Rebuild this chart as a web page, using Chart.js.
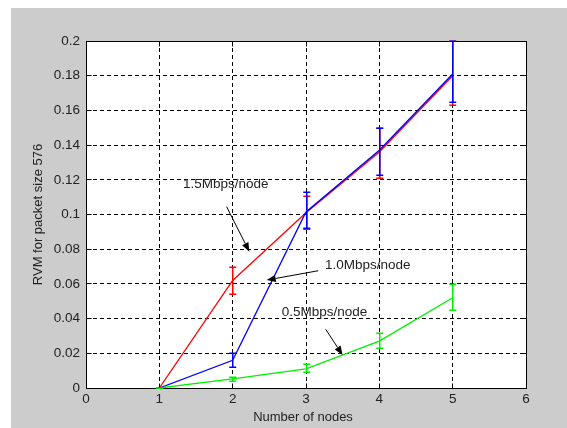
<!DOCTYPE html>
<html>
<head>
<meta charset="utf-8">
<title>RVM vs number of nodes</title>
<script src="https://cdn.jsdelivr.net/npm/chart.js@4/dist/chart.umd.min.js"></script>
<style>
  html, body { margin: 0; padding: 0; background: #ffffff; }
  canvas { display: block; }
</style>
</head>
<body>
<canvas id="c" width="567" height="428"></canvas>
<script>
// Number of nodes
const nodes = [1, 2, 3, 4, 5];

// RVM values and error limits, 1.5 Mbps/node
const rvm15 = [0, 0.062, 0.101, 0.136, 0.180];
const rvm15Low = [0, 0.054, 0.0915, 0.121, 0.163];
const rvm15High = [0, 0.070, 0.1105, 0.150, 0.200];

// RVM values and error limits, 1.0 Mbps/node
const rvm10 = [0, 0.016, 0.1015, 0.137, 0.181];
const rvm10Low = [0, 0.012, 0.0925, 0.123, 0.165];
const rvm10High = [0, 0.020, 0.113, 0.150, 0.200];

// RVM values and error limits, 0.5 Mbps/node
const rvm05 = [0, 0.0052, 0.011, 0.027, 0.052];
const rvm05Low = [0, 0.0042, 0.009, 0.023, 0.045];
const rvm05High = [0, 0.0066, 0.0138, 0.0315, 0.060];

// Axis ranges and tick steps
const xTicks = [0, 1, 2, 3, 4, 5, 6];
const yMin = 0, yMax = 0.2, yStep = 0.02;

// Callout labels: text anchor and arrow (tail -> head), in data units
const calloutText = ['1.5Mbps/node', '1.0Mbps/node', '0.5Mbps/node'];
const calloutTextX = [1.323, 3.259, 2.669];
const calloutTextY = [0.1176, 0.0709, 0.0436];
const arrowFromX = [1.918, 3.168, 3.269];
const arrowFromY = [0.1045, 0.0676, 0.0338];
const arrowToX = [2.227, 2.464, 3.499];
const arrowToY = [0.0786, 0.0622, 0.0190];

const FONT = '"Liberation Sans", Arial, sans-serif';
const TEXT = '#222222';

function pts(ys) { return nodes.map((x, i) => ({ x: x, y: ys[i] })); }
// snap a coordinate to the centre of a pixel, the same way the grid does
function snap(p) { return Math.round(p - 0.5) + 0.5; }

const series = [
  { label: '1.5Mbps/node', data: rvm15, low: rvm15Low, high: rvm15High, color: '#ff0000', order: 3 },
  { label: '1.0Mbps/node', data: rvm10, low: rvm10Low, high: rvm10High, color: '#0000ff', order: 2 },
  { label: '0.5Mbps/node', data: rvm05, low: rvm05Low, high: rvm05High, color: '#00ee00', order: 1 }
];

// Figure background: grey panel with white plot area
const backgroundPlugin = {
  id: 'figureBackground',
  beforeDraw(chart) {
    const ctx = chart.ctx, a = chart.chartArea;
    ctx.save();
    ctx.fillStyle = '#ffffff';
    ctx.fillRect(0, 0, chart.width, chart.height);
    ctx.fillStyle = '#cccccc';
    ctx.fillRect(11, 8, chart.width - 11, chart.height - 8);
    ctx.fillStyle = '#ffffff';
    ctx.fillRect(a.left, a.top, a.right - a.left, a.bottom - a.top);
    ctx.restore();
  }
};

// Vertical error bars with short caps, in each series' colour
function drawErrorBars(chart) {
  const ctx = chart.ctx, xs = chart.scales.x, ys = chart.scales.y;
  ctx.save();
  ctx.lineWidth = 1.5;
  ctx.setLineDash([]);
  series.forEach(s => {
    ctx.strokeStyle = s.color;
    nodes.forEach((n, i) => {
      const px = snap(xs.getPixelForValue(n)) + 0.25;
      const pl = Math.round(ys.getPixelForValue(s.low[i])) + 0.25;
      const ph = Math.round(ys.getPixelForValue(s.high[i])) + 0.25;
      ctx.beginPath();
      ctx.moveTo(px, pl); ctx.lineTo(px, ph);
      ctx.moveTo(px - 3.5, pl); ctx.lineTo(px + 3.5, pl);
      ctx.moveTo(px - 3.5, ph); ctx.lineTo(px + 3.5, ph);
      ctx.stroke();
    });
  });
  ctx.restore();
}

// Frame, inward ticks, error bars, axis titles and callouts
const decorPlugin = {
  id: 'decor',
  afterDraw(chart) {
    const ctx = chart.ctx, a = chart.chartArea, xs = chart.scales.x, ys = chart.scales.y;
    ctx.save();
    ctx.strokeStyle = '#000000';
    ctx.lineWidth = 1;
    ctx.setLineDash([]);
    const L = snap(a.left), R = snap(a.right);
    const T = snap(a.top), B = snap(a.bottom);
    ctx.beginPath();
    ctx.rect(L, T, R - L, B - T);
    ctx.stroke();
    ctx.beginPath();
    xTicks.forEach(v => {
      const p = snap(xs.getPixelForValue(v));
      ctx.moveTo(p, B); ctx.lineTo(p, B - 5);
      ctx.moveTo(p, T); ctx.lineTo(p, T + 5);
    });
    for (let v = yMin; v <= yMax + 1e-9; v += yStep) {
      const p = snap(ys.getPixelForValue(v));
      ctx.moveTo(L, p); ctx.lineTo(L + 5, p);
      ctx.moveTo(R, p); ctx.lineTo(R - 5, p);
    }
    ctx.stroke();

    drawErrorBars(chart);

    // axis titles
    ctx.fillStyle = TEXT;
    ctx.font = '13px ' + FONT;
    ctx.textAlign = 'center';
    ctx.textBaseline = 'middle';
    ctx.fillText('Number of nodes', (a.left + a.right) / 2 - 3, a.bottom + 29);
    ctx.save();
    ctx.translate(38, (a.top + a.bottom) / 2);
    ctx.rotate(-Math.PI / 2);
    ctx.fillText('RVM for packet size 576', 0, 0);
    ctx.restore();

    // callouts
    ctx.textAlign = 'left';
    ctx.font = '13.5px ' + FONT;
    calloutText.forEach((t, i) => {
      ctx.fillStyle = TEXT;
      ctx.fillText(t, xs.getPixelForValue(calloutTextX[i]), ys.getPixelForValue(calloutTextY[i]));
      const x0 = xs.getPixelForValue(arrowFromX[i]), y0 = ys.getPixelForValue(arrowFromY[i]);
      const x1 = xs.getPixelForValue(arrowToX[i]), y1 = ys.getPixelForValue(arrowToY[i]);
      const ang = Math.atan2(y1 - y0, x1 - x0);
      const hl = 9, hw = 3.5;
      const bx = x1 - hl * Math.cos(ang), by = y1 - hl * Math.sin(ang);
      ctx.strokeStyle = '#000000';
      ctx.lineWidth = 1;
      ctx.beginPath();
      ctx.moveTo(x0, y0); ctx.lineTo(bx, by);
      ctx.stroke();
      ctx.fillStyle = '#000000';
      ctx.beginPath();
      ctx.moveTo(x1, y1);
      ctx.lineTo(bx + hw * Math.sin(ang), by - hw * Math.cos(ang));
      ctx.lineTo(bx - hw * Math.sin(ang), by + hw * Math.cos(ang));
      ctx.closePath();
      ctx.fill();
    });
    ctx.restore();
  }
};

new Chart(document.getElementById('c'), {
  type: 'line',
  data: {
    datasets: series.map(s => ({
      label: s.label,
      data: pts(s.data),
      borderColor: s.color,
      backgroundColor: s.color,
      borderWidth: 1.3,
      pointRadius: 0,
      fill: false,
      tension: 0,
      order: s.order
    }))
  },
  options: {
    responsive: false,
    animation: false,
    devicePixelRatio: 1,
    layout: { padding: { left: 0, top: 41, right: 41, bottom: 0 } },
    plugins: { legend: { display: false }, tooltip: { enabled: false } },
    scales: {
      x: {
        type: 'linear',
        min: 0, max: 6,
        afterFit(scale) { scale.height = 40; },
        afterBuildTicks(scale) { scale.ticks = xTicks.map(v => ({ value: v })); },
        ticks: {
          padding: 3,
          color: TEXT,
          font: { family: FONT, size: 13.5 },
          maxRotation: 0,
          callback: v => String(v)
        },
        grid: { color: '#000000', lineWidth: 1, drawTicks: false },
        border: { display: false, dash: [4, 3] }
      },
      y: {
        min: yMin, max: yMax,
        afterFit(scale) { scale.width = 86; },
        ticks: {
          stepSize: yStep,
          padding: 6,
          color: TEXT,
          font: { family: FONT, size: 13.5 },
          callback: v => String(Number(v.toFixed(2)))
        },
        grid: { color: '#000000', lineWidth: 1, drawTicks: false },
        border: { display: false, dash: [4, 3] }
      }
    }
  },
  plugins: [backgroundPlugin, decorPlugin]
});
</script>
</body>
</html>
